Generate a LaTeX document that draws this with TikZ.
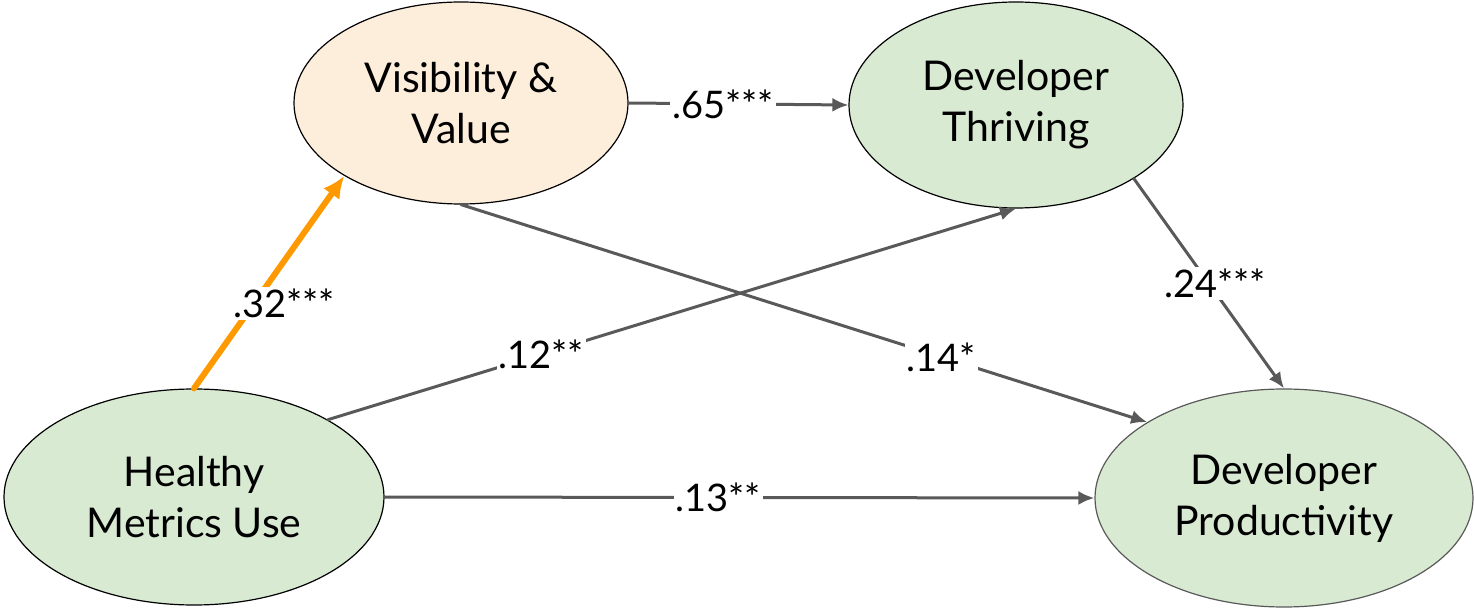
\documentclass[tikz,border=0pt]{standalone}
\usepackage{fontspec}
\setmainfont{Lato}
\usetikzlibrary{arrows.meta,shapes.geometric}
\definecolor{latentgreen}{HTML}{D9EAD3}
\definecolor{latentorange}{HTML}{FDEEDC}
\definecolor{pathgray}{HTML}{595959}
\definecolor{pathorange}{HTML}{FF9900}
\begin{document}
\begin{tikzpicture}[x=0.5pt,y=-0.5pt,line join=round,line cap=round,font=\fontsize{19}{25.5}\selectfont,>={Latex[length=8pt,width=7pt]},
	construct/.style={ellipse,draw,line width=0.6pt,align=center,inner sep=0pt,font=\fontsize{20.5}{25.5}\selectfont},
	coef/.style={->,draw=pathgray,line width=1.5pt},
	est/.style={fill=white,inner sep=1pt}]
	\useasboundingbox (0,0) rectangle (1474,609);
	\node[construct,fill=latentorange,minimum width=167pt,minimum height=101pt] (vis) at (461,103) {Visibility \&\\Value};
	\node[construct,fill=latentgreen,minimum width=167pt,minimum height=103pt] (thr) at (1016,105) {Developer\\Thriving};
	\node[construct,fill=latentgreen,minimum width=190pt,minimum height=108pt] (hmu) at (194,497) {Healthy\\Metrics Use};
	\node[construct,fill=latentgreen,draw=pathgray,minimum width=189pt,minimum height=109pt] (prod) at (1284,498) {Developer\\Productivity};
	\draw[coef](vis.east)--(thr.west) node[est,pos=0.43] {.65***};
	\draw[coef](vis.south)--(prod.151) node[est,pos=0.7] {.14*};
	\draw[coef](hmu.30)--(thr.south) node[est,pos=0.31] {.12**};
	\draw[coef](hmu.east)--(prod.west) node[est,pos=0.47] {.13**};
	\draw[coef](thr.-32)--(prod.north) node[est,pos=0.5,xshift=3pt] {.24***};
	\draw[->,>={Latex[length=11pt,width=10pt]},draw=pathorange,line width=3pt](hmu.north)--(vis.-148) node[est,pos=0.4,xshift=15pt] {.32***};
\end{tikzpicture}
\end{document}
